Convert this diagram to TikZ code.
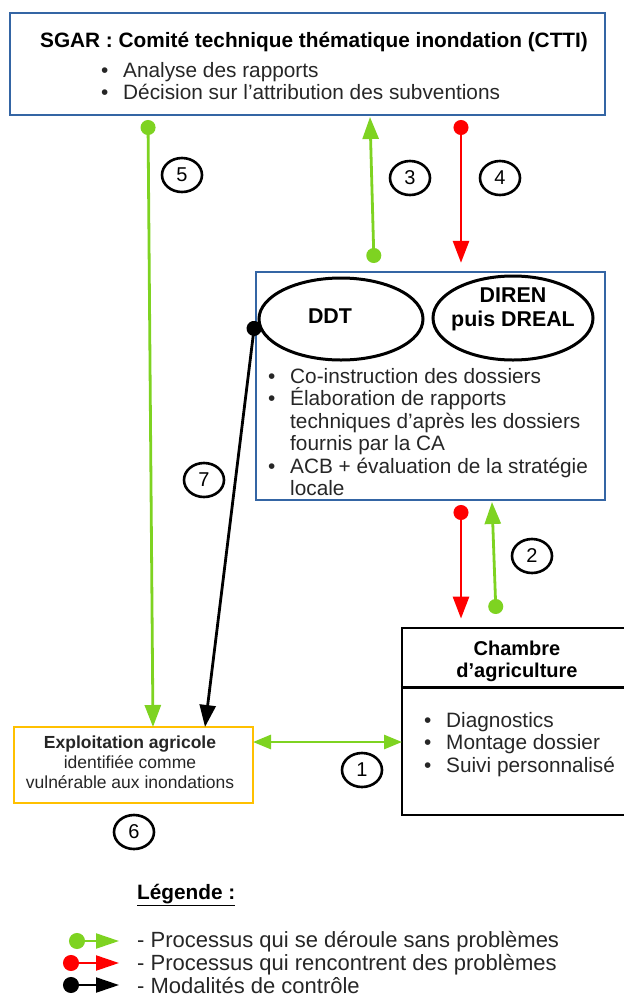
\documentclass[tikz,border=0pt]{standalone}
\usepackage{fontspec}
\setmainfont{Liberation Sans}
\usetikzlibrary{arrows.meta,shapes.geometric}

\definecolor{flowgreen}{HTML}{7ED321}
\definecolor{boxblue}{HTML}{3465A4}
\definecolor{exporange}{HTML}{FFC000}
\definecolor{txtgray}{HTML}{262626}

\newcommand{\itm}{\makebox[22pt][l]{\textbullet}}
\newcommand{\cnt}{\hspace*{22pt}}

\tikzset{
  txt/.style={inner sep=0pt, anchor=base west, align=left, text=txtgray,
    font=\fontsize{20.8}{22.4}\selectfont},
  titletxt/.style={inner sep=0pt, anchor=base, align=center,
    font=\bfseries\fontsize{20.8}{22.4}\selectfont},
  bluebox/.style={draw=boxblue, line width=2.4pt, inner sep=0pt},
  blackbox/.style={draw, line width=2.8pt, inner sep=0pt},
  orgbox/.style={draw=exporange, line width=2.6pt, inner sep=0pt},
  oval/.style={draw, ellipse, line width=3pt, inner sep=0pt},
  num/.style={draw, ellipse, line width=2.6pt, minimum width=40pt, minimum height=34pt,
    inner sep=0pt, font=\fontsize{20}{22}\selectfont},
  flow/.style={line width=2.8pt, {Circle[length=15pt]}-{Triangle[length=22pt,width=16pt]}},
  greenflow/.style={flow, draw=flowgreen},
  redflow/.style={flow, draw=red},
  blackflow/.style={flow, draw=black},
  legflow/.style={line width=2.2pt, {Circle[length=16pt]}-{Triangle[length=23pt,width=15pt]}},
  legtxt/.style={txt, font=\fontsize{22}{23}\selectfont}
}

\begin{document}
\begin{tikzpicture}[x=1pt,y=-1pt]
\useasboundingbox (0,0) rectangle (624,997);

% SGAR box
\node[bluebox, minimum width=595pt, minimum height=102pt] (sgar) at (307.5,64) {};
\node[titletxt] (sgart) at (314,47.5) {SGAR : Comité technique thématique inondation (CTTI)};
\node[txt] (sgarl) at (101,99.5) {\itm Analyse des rapports\\
  \itm Décision sur l’attribution des subventions};

% DDT / DIREN box
\node[bluebox, minimum width=349pt, minimum height=228pt] (mid) at (430.5,386) {};
\node[oval, minimum width=164pt, minimum height=82pt] (ddt) at (341,319) {};
\node[titletxt, font=\bfseries\fontsize{21.4}{24}\selectfont] (ddtt) at (330,323) {DDT};
\node[oval, minimum width=160pt, minimum height=84pt] (diren) at (513,318) {};
\node[titletxt, font=\bfseries\fontsize{21.4}{23.5}\selectfont] (dirent) at (513,326) {DIREN\\ puis DREAL};
\node[txt] (midl) at (268,495.5) {\itm Co-instruction des dossiers\\
  \itm Élaboration de rapports\\
  \cnt techniques d’après les dossiers\\
  \cnt fournis par la CA\\
  \itm ACB + évaluation de la stratégie\\
  \cnt locale};

% Chambre d'agriculture
\node[blackbox, minimum width=230pt, minimum height=187pt] (ca) at (517,721.5) {};
\draw[line width=2.8pt] ([yshift=-61pt]ca.north west) -- ([yshift=-61pt]ca.north east);
\node[titletxt, font=\bfseries\fontsize{20}{22}\selectfont] (cat) at (517,677) {Chambre\\ d’agriculture};
\node[txt] (cal) at (424,772.3) {\itm Diagnostics\\ \itm Montage dossier\\ \itm Suivi personnalisé};

% Exploitation agricole
\node[orgbox, minimum width=239pt, minimum height=76pt] (exploit) at (133.5,765) {};
\node[titletxt, font=\fontsize{17.5}{20}\selectfont, text=txtgray] (exploitt) at (130,788)
  {\textbf{Exploitation agricole}\\ identifiée comme\\ vulnérable aux inondations};

% flux
\coordinate (s5) at (148,120);
\coordinate (t5) at (153,727);
\draw[greenflow] (s5) -- (t5);
\coordinate (s3) at (374,263);
\coordinate (t3) at (370,117);
\draw[greenflow] (s3) -- (t3);
\coordinate (s4) at (461,120);
\draw[redflow, shorten >=8pt] (s4) -- (s4 |- mid.north);
\coordinate (s7) at (255,321);
\coordinate (t7) at (205,727);
\draw[blackflow] (s7) -- (t7);
\coordinate (s2r) at (461,505);
\draw[redflow, shorten >=8pt] (s2r) -- (s2r |- ca.north);
\coordinate (s2g) at (496,614);
\coordinate (t2g) at (492,502);
\draw[greenflow] (s2g) -- (t2g);
\coordinate (e1) at (253,742);
\coordinate (c1) at (402,742);
\draw[line width=2.8pt, draw=flowgreen, {Triangle[length=18pt,width=14pt]}-{Triangle[length=18pt,width=14pt]}] (e1) -- (c1);

% numeros
\node[num] (n5) at (182,175) {5};
\node[num] (n3) at (410,178) {3};
\node[num] (n4) at (500,178) {4};
\node[num] (n7) at (204,480) {7};
\node[num] (n2) at (532,556) {2};
\node[num] (n1) at (362,770) {1};
\node[num] (n6) at (134,832) {6};

% legende
\node[titletxt, anchor=base west] (leg) at (137,899) {\underline{Légende :}};
\node[legtxt] (leg1) at (137,947.5) {- Processus qui se déroule sans problèmes};
\node[legtxt] (leg2) at (137,970.5) {- Processus qui rencontrent des problèmes};
\node[legtxt] (leg3) at (137,993.5) {- Modalités de contrôle};
\coordinate (lg1s) at (69,941);
\coordinate (lg1e) at (119,941);
\coordinate (lg2s) at (63,963);
\coordinate (lg2e) at (119,963);
\coordinate (lg3s) at (63,985);
\coordinate (lg3e) at (119,985);
\draw[legflow, draw=flowgreen] (lg1s) -- (lg1e);
\draw[legflow, draw=red] (lg2s) -- (lg2e);
\draw[legflow, draw=black] (lg3s) -- (lg3e);
\end{tikzpicture}
\end{document}
